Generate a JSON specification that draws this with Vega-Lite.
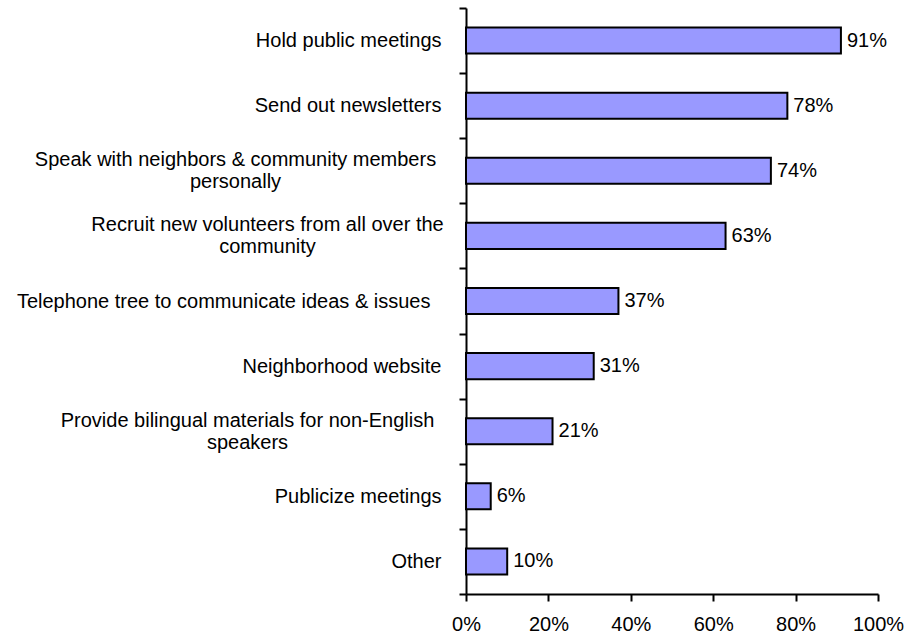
{
  "$schema": "https://vega.github.io/schema/vega-lite/v6.json",
  "width": 412,
  "height": 586,
  "autosize": "none",
  "padding": {"left": 466, "top": 8, "right": 28, "bottom": 43},
  "background": "white",
  "config": {"view": {"stroke": null}, "font": "Liberation Sans"},
  "data": {
    "values": [
      {"activity": "Hold public meetings", "share": 0.91},
      {"activity": "Send out newsletters", "share": 0.78},
      {"activity": "Speak with neighbors & community members personally", "share": 0.74},
      {"activity": "Recruit new volunteers from all over the community", "share": 0.63},
      {"activity": "Telephone tree to communicate ideas & issues", "share": 0.37},
      {"activity": "Neighborhood website", "share": 0.31},
      {"activity": "Provide bilingual materials for non-English speakers", "share": 0.21},
      {"activity": "Publicize meetings", "share": 0.06},
      {"activity": "Other", "share": 0.10}
    ]
  },
  "encoding": {
    "y": {
      "field": "activity",
      "type": "nominal",
      "sort": null,
      "scale": {"paddingInner": 0, "paddingOuter": 0},
      "axis": {
        "title": null,
        "tickBand": "extent",
        "tickSize": 7,
        "tickWidth": 2,
        "tickColor": "#000",
        "domainWidth": 2,
        "domainColor": "#000",
        "labelFontSize": 20,
        "labelColor": "#000",
        "labelLineHeight": 22,
        "labelLimit": 0,
        "labelPadding": 18,
        "labelExpr": "datum.value == 'Speak with neighbors & community members personally' ? ['Speak with neighbors & community members', 'personally'] : datum.value == 'Recruit new volunteers from all over the community' ? ['Recruit new volunteers from all over the', 'community'] : datum.value == 'Provide bilingual materials for non-English speakers' ? ['Provide bilingual materials for non-English', 'speakers'] : datum.value",
        "encoding": {
          "labels": {
            "align": {"value": {"expr": "length('' + datum.value) > 46 ? 'center' : 'right'"}},
            "dx": {"value": {"expr": "indexof('' + datum.value, 'Speak') == 0 ? -206 : indexof('' + datum.value, 'Recruit') == 0 ? -174 : indexof('' + datum.value, 'Provide') == 0 ? -194 : indexof('' + datum.value, 'Telephone') == 0 ? -11 : 0"}},
            "dy": {"value": {"expr": "length('' + datum.value) > 46 ? -11 : 0"}}
          }
        }
      }
    }
  },
  "layer": [
    {
      "mark": {"type": "bar", "fill": "#9999FF", "stroke": "#000", "strokeWidth": 2, "height": {"band": 0.4}},
      "encoding": {
        "x": {
          "field": "share",
          "type": "quantitative",
          "scale": {"domain": [0, 1], "nice": false},
          "axis": {
            "title": null,
            "values": [0, 0.2, 0.4, 0.6, 0.8, 1],
            "format": ".0%",
            "grid": false,
            "tickSize": 7,
            "tickWidth": 2,
            "tickColor": "#000",
            "domainWidth": 2,
            "domainColor": "#000",
            "labelFontSize": 20,
            "labelColor": "#000",
            "labelFlush": false,
            "labelOverlap": false,
            "labelPadding": 13
          }
        }
      }
    },
    {
      "mark": {"type": "text", "align": "left", "baseline": "middle", "dx": 6, "fontSize": 20, "color": "#000"},
      "encoding": {
        "x": {"field": "share", "type": "quantitative"},
        "text": {"field": "share", "type": "quantitative", "format": ".0%"}
      }
    }
  ]
}
